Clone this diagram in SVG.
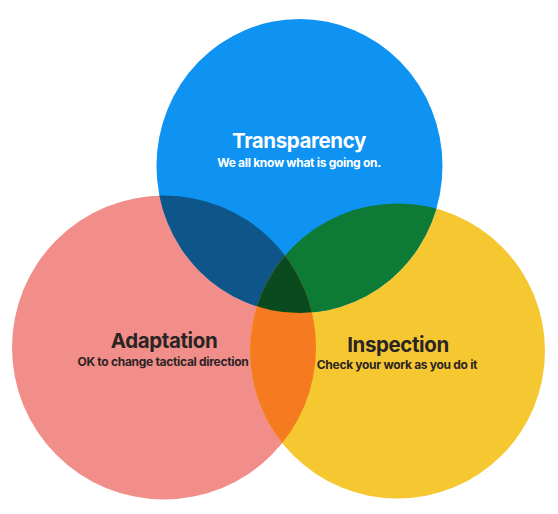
<svg xmlns="http://www.w3.org/2000/svg" width="558" height="514" viewBox="0 0 558 514">
<defs>
<clipPath id="cB"><ellipse cx="299.5" cy="166" rx="143" ry="147"/></clipPath>
<clipPath id="cR"><circle cx="164" cy="347.5" r="152"/></clipPath>
<style>
.t{font-family:Inter,"Liberation Sans",sans-serif;font-weight:700;text-anchor:middle}
.h{font-size:20.5px;letter-spacing:-0.4px}
.s{font-size:12px;letter-spacing:-0.3px}
.dk{fill:#2b2424}
</style>
</defs>
<rect width="558" height="514" fill="#ffffff"/>
<g id="circles">
<g id="adaptation"><circle cx="164" cy="347.5" r="152" fill="#F28E8A"/></g>
<g id="inspection"><circle cx="397.5" cy="351" r="147.5" fill="#F5C832"/></g>
<g id="transparency"><ellipse cx="299.5" cy="166" rx="143" ry="147" fill="#0E93F2"/></g>
<g id="overlaps">
<g clip-path="url(#cB)"><circle cx="164" cy="347.5" r="152" fill="#0E5589"/></g>
<g clip-path="url(#cB)"><circle cx="397.5" cy="351" r="147.5" fill="#0D7A35"/></g>
<g clip-path="url(#cR)"><circle cx="397.5" cy="351" r="147.5" fill="#F57A20"/></g>
<g clip-path="url(#cB)"><g clip-path="url(#cR)"><circle cx="397.5" cy="351" r="147.5" fill="#0A4A1F"/></g></g>
</g>
</g>
<g id="labels">
<text class="t h" x="299" y="148" fill="#ffffff">Transparency</text>
<text class="t s" x="299" y="167" fill="#ffffff">We all know what is going on.</text>
<text class="t h dk" x="164" y="348">Adaptation</text>
<text class="t s dk" x="163" y="366">OK to change tactical direction</text>
<text class="t h dk" x="398" y="352">Inspection</text>
<text class="t s dk" x="397" y="369">Check your work as you do it</text>
</g>
</svg>
